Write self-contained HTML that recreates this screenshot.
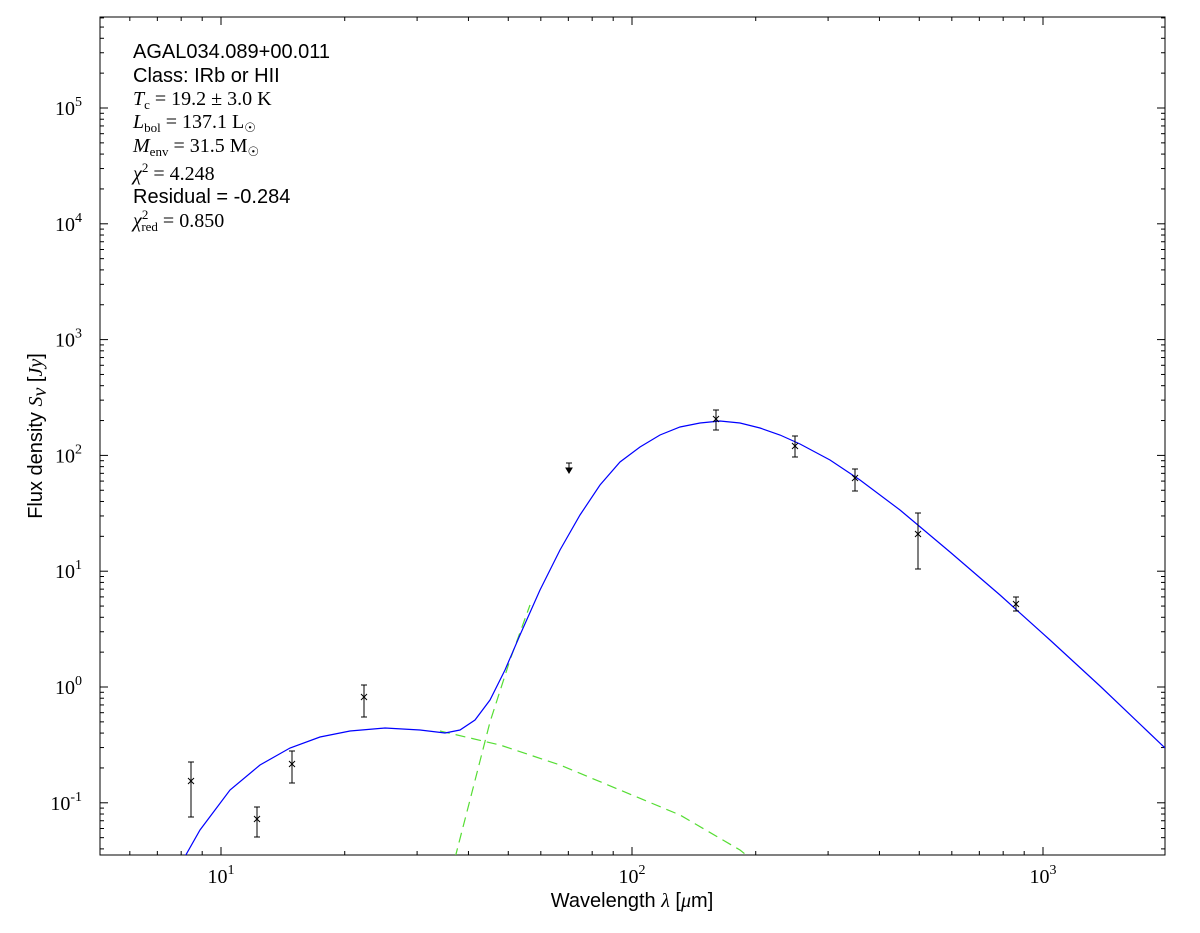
<!DOCTYPE html>
<html><head><meta charset="utf-8"><style>
body{margin:0;background:#fff;}
svg{display:block;font-family:"Liberation Sans",sans-serif;}
.s{font-family:"Liberation Serif",serif;font-size:20px;}
</style></head><body>
<svg id="c" width="1200" height="933" xmlns="http://www.w3.org/2000/svg">
<rect x="100" y="17" width="1065" height="838" fill="none" stroke="#000" stroke-width="1"/>
<g id="ticks" stroke="#000" stroke-width="1"></g>
<clipPath id="cp"><rect x="100" y="17" width="1065" height="838"/></clipPath>
<g clip-path="url(#cp)" fill="none">
<polyline stroke="#55dd33" stroke-width="1.2" stroke-dasharray="10,6" points="440,731 500,745 560,765 620,790 680,815 740,850 750,858"/>
<polyline stroke="#55dd33" stroke-width="1.2" stroke-dasharray="10,6" points="455,858 470,800 490,722 510,660 530,605"/>
<polyline stroke="#0000ff" stroke-width="1.2" points="183,860 200,830 230,790 260,765 290,748 320,737 350,731 385,728 420,730 445,733 460,730 475,720 490,700 505,670 520,635 540,590 560,550 580,515 600,485 620,462 640,447 660,435 680,427 700,423 720,421 740,423 760,428 780,435 800,444 830,460 860,480 900,510 950,552 1000,595 1050,640 1100,686 1165,748"/>
</g>
<g id="pts" stroke="#000" stroke-width="1" fill="none"></g>
<g font-size="20" fill="#000">
<text x="133" y="58">AGAL034.089+00.011</text>
<text x="133" y="82">Class: IRb or HII</text>
<text class="s" x="133" y="105"><tspan font-style="italic">T</tspan><tspan font-size="13" dy="4">c</tspan><tspan dy="-4"> = 19.2 ± 3.0 K</tspan></text>
<text class="s" x="133" y="128"><tspan font-style="italic">L</tspan><tspan font-size="13" dy="4">bol</tspan><tspan dy="-4"> = 137.1 L</tspan><tspan font-size="13" dy="4">☉</tspan></text>
<text class="s" x="133" y="152"><tspan font-style="italic">M</tspan><tspan font-size="13" dy="4">env</tspan><tspan dy="-4"> = 31.5 M</tspan><tspan font-size="13" dy="4">☉</tspan></text>
<text class="s" x="133" y="180"><tspan font-style="italic">χ</tspan><tspan font-size="13" dy="-8">2</tspan><tspan dy="8"> = 4.248</tspan></text>
<text x="133" y="203">Residual = -0.284</text>
<text class="s" x="133" y="227"><tspan font-style="italic">χ</tspan><tspan font-size="13" dy="-8">2</tspan><tspan font-size="13" dx="-7" dy="12">red</tspan><tspan dy="-4"> = 0.850</tspan></text>
<text x="632" y="907" text-anchor="middle">Wavelength <tspan class="s" font-style="italic">λ</tspan> [<tspan class="s" font-style="italic">μ</tspan>m]</text>
<text transform="translate(42,436) rotate(-90)" text-anchor="middle">Flux density <tspan class="s" font-style="italic">S</tspan><tspan class="s" font-style="italic" font-size="13" dy="4">ν</tspan><tspan dy="-4"> [</tspan><tspan class="s" font-style="italic">Jy</tspan>]</text>
</g>
<g id="labels" class="s" fill="#000"></g>
</svg>
<script>
var NS="http://www.w3.org/2000/svg",t=document.getElementById("ticks"),L=document.getElementById("labels"),P=document.getElementById("pts");
function ln(g,a,b,c,d){var e=document.createElementNS(NS,"line");e.setAttribute("x1",a);e.setAttribute("y1",b);e.setAttribute("x2",c);e.setAttribute("y2",d);g.appendChild(e);}
function tx(x,y,s,anc,sup){var e=document.createElementNS(NS,"text");e.setAttribute("x",x);e.setAttribute("y",y);e.setAttribute("text-anchor",anc);e.setAttribute("font-size","20");e.innerHTML=s+'<tspan font-size="14" dy="-9">'+sup+'</tspan>';L.appendChild(e);}
function X(v){return 221+411*(Math.log10(v)-1);}
function Y(v){return 687-115.8*Math.log10(v);}
for(var d=0;d<=3;d++)for(var m=1;m<10;m++){var v=m*Math.pow(10,d),x=X(v);if(x<100||x>1165)continue;var l=m==1?8:4;ln(t,x,855,x,855-l);ln(t,x,17,x,17+l);if(m==1)tx(x,883,"10","middle",d);}
for(var d=-2;d<=5;d++)for(var m=1;m<10;m++){var v=m*Math.pow(10,d),y=Y(v);if(y<17||y>855)continue;var l=m==1?8:4;ln(t,100,y,100+l,y);ln(t,1165,y,1165-l,y);if(m==1)tx(82,y+7,"10","end",d);}
var pts=[[191,781,762,817],[257,819,807,837],[292,764,751,783],[364,697,685,717],[716,419,410,430],[795,446,436,457],[855,478,469,491],[918,534,513,569],[1016,604,597,611]];
pts.forEach(function(p){ln(P,p[0],p[2],p[0],p[3]);ln(P,p[0]-3,p[2],p[0]+3,p[2]);ln(P,p[0]-3,p[3],p[0]+3,p[3]);ln(P,p[0]-3,p[1]-3,p[0]+3,p[1]+3);ln(P,p[0]-3,p[1]+3,p[0]+3,p[1]-3);});
ln(P,569,463,569,471);ln(P,566,463,572,463);
var a=document.createElementNS(NS,"path");a.setAttribute("d","M566,468 L572,468 L569,473 Z");a.setAttribute("fill","#000");P.appendChild(a);
</script>
</body></html>
